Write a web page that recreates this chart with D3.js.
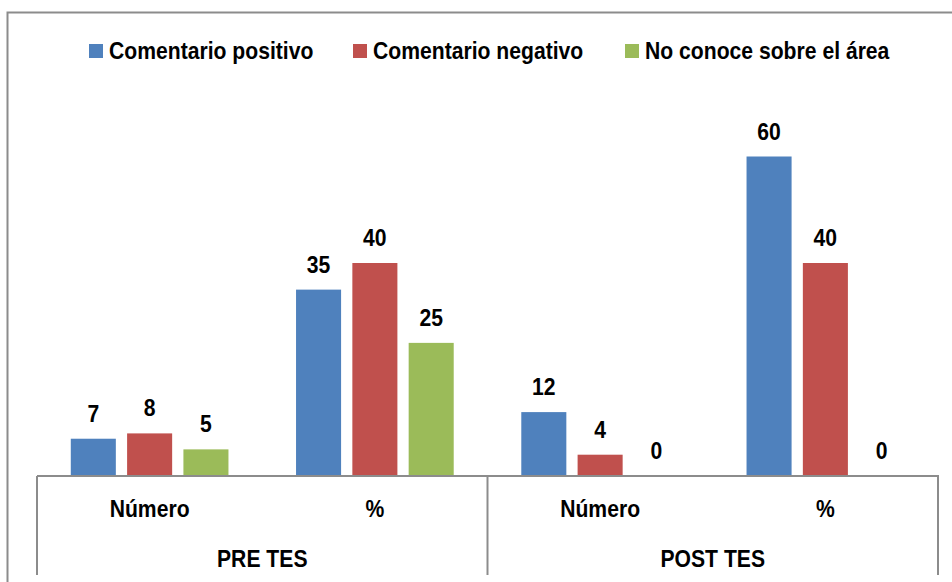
<!DOCTYPE html>
<html>
<head>
<meta charset="utf-8">
<script src="https://cdn.jsdelivr.net/npm/d3@7"></script>
<style>
	body { margin: 0; background: #fff; }
	svg text { font-family: "Liberation Sans", Arial, sans-serif; font-weight: bold; fill: #000; font-size: 23px; }
</style>
</head>
<body>
<div id="chart"></div>
<script>
// chart data
var groups = ["PRE TES", "POST TES"];
var subCategories = ["Número", "%"];
var seriesNames = ["Comentario positivo", "Comentario negativo", "No conoce sobre el área"];
var seriesColors = ["#4f81bd", "#c0504d", "#9bbb59"];
// one value per category: PRE Número, PRE %, POST Número, POST %
var positivo = [7, 35, 12, 60];
var negativo = [8, 40, 4, 40];
var noConoce = [5, 25, 0, 0];

drawChart();

// the original uses a narrow bold face, so squeeze the text a bit
function place(x, y) {
	return "translate(" + x + "," + y + ") scale(0.92,1)";
}

function drawChart() {
	var w = 952,
		h = 582,
		left = 37,
		right = 938,
		axisY = 476,
		bottom = 575,
		yPerUnit = 5.325,
		borderColor = "#8c8c8c";

	var categories = [];
	groups.forEach(function(g) {
		subCategories.forEach(function(s) {
			categories.push({ group: g, label: s, key: g + "|" + s });
		});
	});

	var seriesValues = [positivo, negativo, noConoce];

	var svg = d3.select("#chart")
		.append("svg")
		.attr("width", w)
		.attr("height", h);

	// outer frame (right and bottom edge are cut off in the original)
	svg.append("path")
		.attr("d", "M7.5," + h + "V12.5H" + w)
		.attr("fill", "none")
		.attr("stroke", borderColor)
		.attr("stroke-width", 2);

	var x0 = d3.scaleBand()
		.domain(categories.map(function(c) { return c.key; }))
		.range([left, right])
		.padding(0);

	var x1 = d3.scaleBand()
		.domain(seriesNames)
		.range([0, x0.bandwidth()])
		.paddingInner(0.2)
		.paddingOuter(0.6);

	var y = d3.scaleLinear()
		.domain([0, 60])
		.range([axisY, axisY - 60 * yPerUnit]);

	var cats = svg.selectAll("g.cat")
		.data(categories)
		.enter().append("g")
		.attr("class", "cat")
		.attr("transform", function(d) {
			return "translate(" + x0(d.key) + ",0)";
		});

	var bars = cats.selectAll("g.bar")
		.data(function(d, i) {
			return seriesNames.map(function(s, j) {
				return { series: s, color: seriesColors[j], value: seriesValues[j][i] };
			});
		})
		.enter().append("g")
		.attr("class", "bar");

	bars.append("rect")
		.attr("x", function(d) { return x1(d.series); })
		.attr("y", function(d) { return y(d.value); })
		.attr("width", x1.bandwidth())
		.attr("height", function(d) { return y(0) - y(d.value); })
		.attr("fill", function(d) { return d.color; });

	bars.append("text")
		.attr("transform", function(d) {
			return place(x1(d.series) + x1.bandwidth() / 2, y(d.value) - 17);
		})
		.attr("text-anchor", "middle")
		.text(function(d) { return d.value; });

	// category axis: baseline plus the multi-level divider lines
	var axis = svg.append("g")
		.attr("fill", "none")
		.attr("stroke", borderColor)
		.attr("stroke-width", 2);

	axis.append("line")
		.attr("x1", left).attr("x2", right + 1)
		.attr("y1", axisY).attr("y2", axisY);

	var dividers = [left, x0(categories[2].key), right];
	axis.selectAll("line.div")
		.data(dividers)
		.enter().append("line")
		.attr("class", "div")
		.attr("x1", function(d) { return d; })
		.attr("x2", function(d) { return d; })
		.attr("y1", axisY)
		.attr("y2", bottom);

	svg.selectAll("text.catlabel")
		.data(categories)
		.enter().append("text")
		.attr("class", "catlabel")
		.attr("transform", function(d) {
			return place(x0(d.key) + x0.bandwidth() / 2, 517);
		})
		.attr("text-anchor", "middle")
		.text(function(d) { return d.label; });

	svg.selectAll("text.grp")
		.data(groups)
		.enter().append("text")
		.attr("class", "grp")
		.attr("transform", function(d, i) {
			return place(x0(categories[i * 2].key) + x0.bandwidth(), 567);
		})
		.attr("text-anchor", "middle")
		.text(function(d) { return d; });

	// legend
	var legendX = [89, 353, 625];
	var legend = svg.selectAll("g.legend")
		.data(seriesNames)
		.enter().append("g")
		.attr("class", "legend")
		.attr("transform", function(d, i) {
			return "translate(" + legendX[i] + ",44)";
		});

	legend.append("rect")
		.attr("width", 14)
		.attr("height", 14)
		.attr("fill", function(d, i) { return seriesColors[i]; });

	legend.append("text")
		.attr("transform", place(20, 14.5))
		.text(function(d) { return d; });
}
</script>
</body>
</html>
